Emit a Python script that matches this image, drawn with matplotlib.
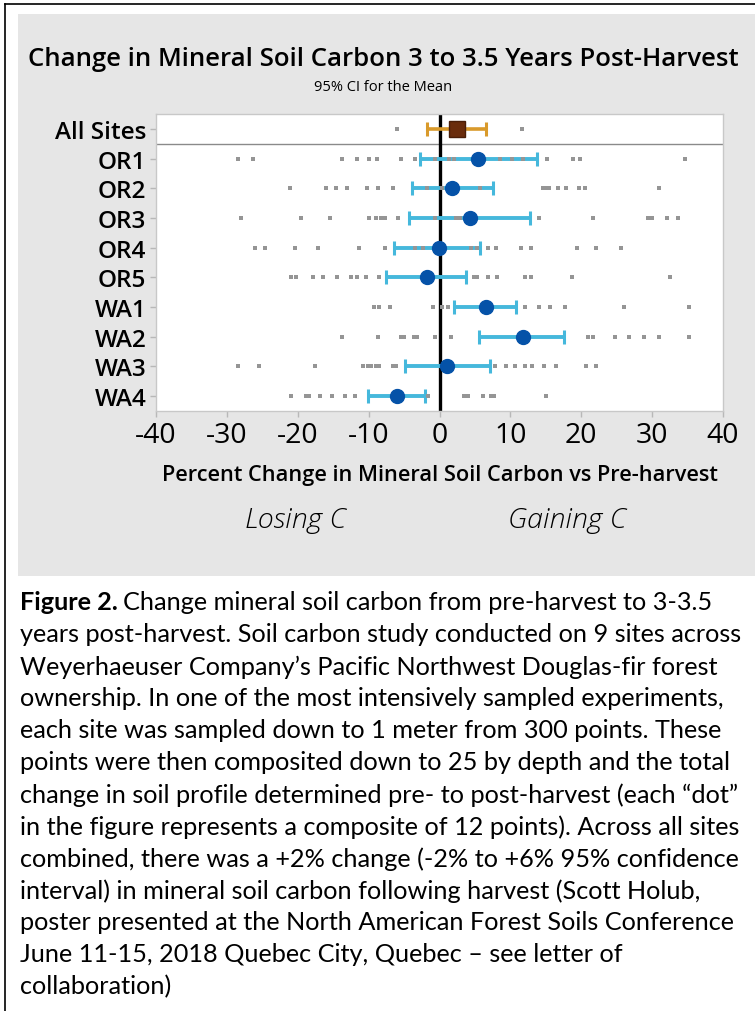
import numpy as np
import matplotlib
matplotlib.use("Agg")
import matplotlib.pyplot as plt
from matplotlib.patches import Rectangle
from matplotlib.lines import Line2D

# =========================
# DATA
# =========================
sites = ["All Sites", "OR1", "OR2", "OR3", "OR4", "OR5", "WA1", "WA2", "WA3", "WA4"]
means = [2.5, 5.5, 1.8, 4.3, -0.1, -1.7, 6.5, 11.8, 1.1, -6.0]
ci_low = [-1.8, -2.7, -3.9, -4.3, -6.4, -7.5, 2.1, 5.6, -4.9, -10.1]
ci_high = [6.6, 13.8, 7.6, 12.8, 5.7, 3.8, 10.8, 17.6, 7.1, -2.0]

dots_all = [-6.0, 11.7]
dots_or1 = [-28.4, -26.3, -13.7, -11.6, -9.9, -8.8, -5.5, -3.5, -0.7, 1.4, 2.1,
            8.6, 10.2, 11.8, 15.2, 18.9, 19.8, 34.6]
dots_or2 = [-21.1, -16.0, -14.6, -13.1, -10.2, -8.7, -6.5, -1.7, 0.4, 5.7,
            14.6, 15.1, 15.5, 16.7, 17.9, 19.7, 20.5, 31.0]
dots_or3 = [-28.0, -19.6, -15.4, -10.0, -9.0, -8.3, -7.7, -5.8, -0.7, 2.3, 2.9,
            3.6, 14.1, 21.6, 29.4, 30.0, 32.1, 33.7]
dots_or4 = [-26.1, -24.6, -20.4, -17.1, -11.4, -7.7, -3.4, -2.3, 4.5, 5.3, 6.9,
            8.0, 11.5, 12.9, 19.4, 22.1, 25.6]
dots_or5 = [-20.9, -20.2, -17.8, -16.4, -14.4, -12.5, -11.6, -10.4, -8.5, 4.8,
            5.3, 6.9, 8.1, 12.0, 12.9, 18.7, 32.5]
dots_wa1 = [-9.2, -8.5, -7.0, -0.9, 0.4, 1.2, 12.0, 14.1, 15.6, 17.7, 26.1, 35.2]
dots_wa2 = [-13.7, -8.7, -5.5, -5.0, -3.6, -3.2, -0.7, 1.6, 21.0, 21.7, 24.8,
            26.7, 28.9, 31.0, 35.2]
dots_wa3 = [-28.4, -25.4, -17.6, -10.8, -10.1, -9.6, -9.0, -8.5, -6.6, -6.2,
            7.9, 9.4, 10.7, 12.1, 13.0, 14.8, 16.4, 20.7, 22.1]
dots_wa4 = [-21.0, -18.8, -18.4, -16.8, -15.1, -13.4, -11.9, -1.6, 3.4, 4.0,
            6.1, 7.2, 7.7, 15.0]
site_dots = [dots_all, dots_or1, dots_or2, dots_or3, dots_or4, dots_or5,
             dots_wa1, dots_wa2, dots_wa3, dots_wa4]

x_ticks = [-40, -30, -20, -10, 0, 10, 20, 30, 40]

caption_lines = [
    "Change mineral soil carbon from pre-harvest to 3-3.5",
    "years post-harvest. Soil carbon study conducted on 9 sites across",
    "Weyerhaeuser Company\u2019s Pacific Northwest Douglas-fir forest",
    "ownership. In one of the most intensively sampled experiments,",
    "each site was sampled down to 1 meter from 300 points. These",
    "points were then composited down to 25 by depth and the total",
    "change in soil profile determined pre- to post-harvest (each \u201cdot\u201d",
    "in the figure represents a composite of 12 points). Across all sites",
    "combined, there was a +2% change (-2% to +6% 95% confidence",
    "interval) in mineral soil carbon following harvest (Scott Holub,",
    "poster presented at the North American Forest Soils Conference",
    "June 11-15, 2018 Quebec City, Quebec \u2013 see letter of",
    "collaboration)",
]

# =========================
# FIGURE
# =========================
W, H = 755, 1012
fig = plt.figure(figsize=(W / 100, H / 100), dpi=100)
fig.patch.set_facecolor("white")


def fx(px):
    return px / W


def fy(py):
    return 1 - py / H


# grey chart panel and outer border
fig.patches.append(Rectangle((fx(18), fy(577)), fx(755) - fx(18), fy(15) - fy(577),
                             transform=fig.transFigure, facecolor="#e6e6e6",
                             edgecolor="none", zorder=-10))
fig.lines.append(Line2D([fx(5), fx(5)], [fy(5), fy(1012)], transform=fig.transFigure,
                        color="black", lw=1.2, zorder=-5))
fig.lines.append(Line2D([fx(5), fx(755)], [fy(5), fy(5)], transform=fig.transFigure,
                        color="black", lw=1.2, zorder=-5))

ax = fig.add_axes([fx(156), fy(412), fx(723) - fx(156), fy(115) - fy(412)])
ax.set_facecolor("white")

ypos = np.arange(len(sites))

# individual composites
for i, d in enumerate(site_dots):
    ax.scatter(d, [i] * len(d), marker="s", s=5, color="#959595", lw=0, zorder=3)

ax.axvline(0, color="black", lw=2.4, zorder=2)
ax.axhline(0.5, color="#8a8a8a", lw=1.0, zorder=1)

# confidence intervals
lo = np.array(ci_low)
hi = np.array(ci_high)
mu = np.array(means)
err = np.vstack([mu - lo, hi - mu])

ax.errorbar(mu[:1], ypos[:1], xerr=err[:, :1], fmt="none", ecolor="#d99a2b",
            elinewidth=2.6, capsize=5, capthick=2.2, zorder=2.5)
ax.errorbar(mu[1:], ypos[1:], xerr=err[:, 1:], fmt="none", ecolor="#45b8dc",
            elinewidth=2.8, capsize=5, capthick=2.2, zorder=2.5)
ax.plot(mu[:1], ypos[:1], "s", ms=12, color="#6a2c0c", mec="#4a1e08", zorder=4)
ax.plot(mu[1:], ypos[1:], "o", ms=10, color="#0552a8", mec="#0552a8", zorder=4)

ax.set_xlim(-40, 40)
ax.set_ylim(len(sites) - 0.5, -0.5)
ax.set_xticks(x_ticks)
ax.set_xticklabels([str(t) for t in x_ticks], fontsize=20.5, family="Open Sans")
ax.set_yticks(ypos)
ax.set_yticklabels(sites, fontsize=17.5, family="Open Sans", fontweight="semibold")
ax.tick_params(axis="both", color="#b8b8b8", length=4, width=1, labelcolor="black")
ax.tick_params(axis="x", pad=3)
ax.tick_params(axis="y", pad=3)
for s in ax.spines.values():
    s.set_color("#c8c8c8")
    s.set_linewidth(1)

# =========================
# TEXTS
# =========================
fig.text(fx(383), fy(60), "Change in Mineral Soil Carbon 3 to 3.5 Years Post-Harvest",
         ha="center", va="center", fontsize=18.5, family="Open Sans",
         fontweight="semibold")
fig.text(fx(383), fy(88), "95% CI for the Mean", ha="center", va="center",
         fontsize=10.5, family="Open Sans")
fig.text(fx(440), fy(475), "Percent Change in Mineral Soil Carbon vs Pre-harvest",
         ha="center", va="center", fontsize=15.7, family="Open Sans",
         fontweight="semibold")
fig.text(fx(295), fy(520), "Losing C", ha="center", va="center", fontsize=20.5,
         family="Open Sans", style="italic", fontweight="light")
fig.text(fx(567), fy(520), "Gaining C", ha="center", va="center", fontsize=20.5,
         family="Open Sans", style="italic", fontweight="light")

# caption
cap_font = "Lato"
cap_size = 18.2
line_h = 32
y0 = 603
renderer = fig.canvas.get_renderer()
bold = fig.text(fx(20), fy(y0), "Figure 2.", ha="left", va="center",
                fontsize=cap_size, family=cap_font, fontweight="bold")
bb = bold.get_window_extent(renderer=renderer)
fig.text(bb.x1 / W + fx(5), fy(y0), caption_lines[0], ha="left", va="center",
         fontsize=cap_size, family=cap_font)
for k, line in enumerate(caption_lines[1:], start=1):
    fig.text(fx(20), fy(y0 + k * line_h), line, ha="left", va="center",
             fontsize=cap_size, family=cap_font)

fig.savefig("out.png", dpi=100)
